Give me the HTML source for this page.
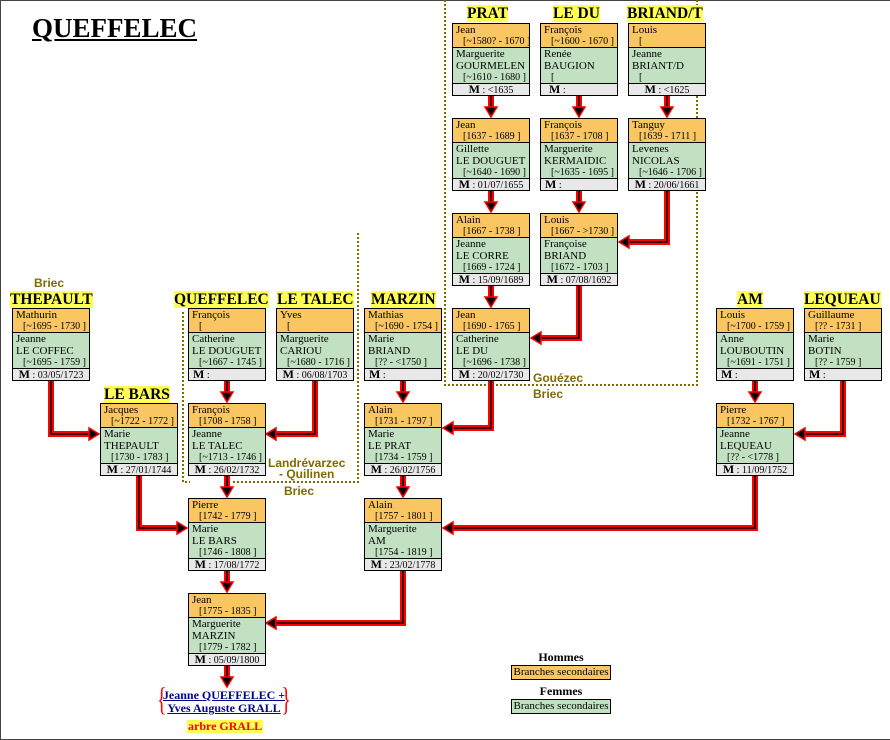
<!DOCTYPE html>
<html><head><meta charset="utf-8"><style>
*{margin:0;padding:0;box-sizing:border-box}
body{width:890px;height:740px;position:relative;background:#fff;overflow:hidden;font-family:"Liberation Serif",serif;color:#000}
.frame{position:absolute;left:0;top:0;width:890px;height:740px;border:1px solid #444;border-right:none}
.b{position:absolute;width:78px;border:1px solid #000;font-size:11px;line-height:12px;white-space:nowrap;overflow:hidden}
.h{background:#f9c661;height:24px;border-bottom:1px solid #000;padding-left:3px}
.f{background:#c2e1c2;height:36px;border-bottom:1px solid #000;padding-left:3px}
.d{padding-left:7px;font-size:10px}
.m{background:#e8e8e8;height:11px;line-height:11px;font-size:10px;text-align:center}
.m b{font-size:12px}
.fam{position:absolute;font-weight:bold;font-size:15.5px;line-height:17px;background:#ffff55;white-space:nowrap}
.loc{position:absolute;font-family:"Liberation Sans",sans-serif;font-weight:bold;color:#7f6a00;font-size:12px;line-height:11px;text-align:center;white-space:nowrap}
svg{position:absolute;left:0;top:0}
</style></head><body>
<div class="frame"></div>
<div style="position:absolute;left:32px;top:13px;font-size:27px;font-weight:bold;text-decoration:underline;line-height:30px">QUEFFELEC</div>

<svg width="890" height="740">
<g fill="none" stroke="#7f6a00" stroke-width="2" stroke-dasharray="2,2">
<path d="M445 0V385H697V0"/>
<path d="M183 312V482H190M233 482H358V232"/>
</g>
<g fill="none" stroke="#f00" stroke-width="6">
<path d="M491 95V110M491 190V205M491 284V300M579 95V110M579 190V205M667 95V110M227 380V395M227 475V490M227 570V585M227 665V680M403 380V395M403 475V490M755 380V395"/>
<path d="M667 190V242H626M579 284V338H538M51 380V434H92M315 380V434H273M491 380V428H450M843 380V434H802M139 475V528H180M755 475V528H450M403 570V623H273"/>
</g>
<g fill="none" stroke="#000" stroke-width="1.5">
<path d="M491 95V110M491 190V205M491 284V300M579 95V110M579 190V205M667 95V110M227 380V395M227 475V490M227 570V585M227 665V680M403 380V395M403 475V490M755 380V395"/>
<path d="M667 190V242H626M579 284V338H538M51 380V434H92M315 380V434H273M491 380V428H450M843 380V434H802M139 475V528H180M755 475V528H450M403 570V623H273"/>
</g>
<g fill="#000" stroke="#f00" stroke-width="1.5">
<path d="M485 107H497L491 117Z"/><path d="M485 202H497L491 212Z"/><path d="M485 297H497L491 307Z"/>
<path d="M573 107H585L579 117Z"/><path d="M573 202H585L579 212Z"/><path d="M661 107H673L667 117Z"/>
<path d="M221 392H233L227 402Z"/><path d="M221 487H233L227 497Z"/><path d="M221 582H233L227 592Z"/><path d="M221 677H233L227 687Z"/>
<path d="M397 392H409L403 402Z"/><path d="M397 487H409L403 497Z"/><path d="M749 392H761L755 402Z"/>
<path d="M629 236V248L619 242Z"/><path d="M541 332V344L531 338Z"/><path d="M89 428V440L99 434Z"/>
<path d="M276 428V440L266 434Z"/><path d="M453 422V434L443 428Z"/><path d="M805 428V440L795 434Z"/>
<path d="M177 522V534L187 528Z"/><path d="M453 522V534L443 528Z"/><path d="M276 617V629L266 623Z"/>
</g>
</svg>

<div class="fam" style="left:467px;top:5px">PRAT</div>
<div class="fam" style="left:553px;top:5px">LE DU</div>
<div class="fam" style="left:627px;top:5px">BRIAND/T</div>
<div class="fam" style="left:10px;top:291px">THEPAULT</div>
<div class="fam" style="left:174px;top:291px">QUEFFELEC</div>
<div class="fam" style="left:277px;top:291px">LE TALEC</div>
<div class="fam" style="left:371px;top:291px">MARZIN</div>
<div class="fam" style="left:737px;top:291px">AM</div>
<div class="fam" style="left:804px;top:291px">LEQUEAU</div>
<div class="fam" style="left:104px;top:386px">LE BARS</div>

<div class="loc" style="left:34px;top:278px">Briec</div>
<div class="loc" style="left:533px;top:373px">Gouézec</div>
<div class="loc" style="left:533px;top:389px">Briec</div>
<div class="loc" style="left:268px;top:458px">Landrévarzec<br>- Quilinen</div>
<div class="loc" style="left:284px;top:486px">Briec</div>

<div class="b" style="left:452px;top:23px"><div class="h">Jean<div class="d">[~1580? - 1670 ]</div></div><div class="f">Marguerite<br>GOURMELEN<div class="d">[~1610 - 1680 ]</div></div><div class="m"><b>M</b> : &lt;1635</div></div>
<div class="b" style="left:540px;top:23px"><div class="h">François<div class="d">[~1600 - 1670 ]</div></div><div class="f">Renée<br>BAUGION<div class="d">[</div></div><div class="m" style="text-align:left;padding-left:8px"><b>M</b> :</div></div>
<div class="b" style="left:628px;top:23px"><div class="h">Louis<div class="d">[</div></div><div class="f">Jeanne<br>BRIANT/D<div class="d">[</div></div><div class="m"><b>M</b> : &lt;1625</div></div>

<div class="b" style="left:452px;top:118px"><div class="h">Jean<div class="d">[1637 - 1689 ]</div></div><div class="f">Gillette<br>LE DOUGUET<div class="d">[~1640 - 1690 ]</div></div><div class="m"><b>M</b> : 01/07/1655</div></div>
<div class="b" style="left:540px;top:118px"><div class="h">François<div class="d">[1637 - 1708 ]</div></div><div class="f">Marguerite<br>KERMAIDIC<div class="d">[~1635 - 1695 ]</div></div><div class="m" style="text-align:left;padding-left:4px"><b>M</b> :</div></div>
<div class="b" style="left:628px;top:118px"><div class="h">Tanguy<div class="d">[1639 - 1711 ]</div></div><div class="f">Levenes<br>NICOLAS<div class="d">[~1646 - 1706 ]</div></div><div class="m"><b>M</b> : 20/06/1661</div></div>

<div class="b" style="left:452px;top:213px"><div class="h">Alain<div class="d">[1667 - 1738 ]</div></div><div class="f">Jeanne<br>LE CORRE<div class="d">[1669 - 1724 ]</div></div><div class="m"><b>M</b> : 15/09/1689</div></div>
<div class="b" style="left:540px;top:213px"><div class="h">Louis<div class="d">[1667 - &gt;1730 ]</div></div><div class="f">Françoise<br>BRIAND<div class="d">[1672 - 1703 ]</div></div><div class="m"><b>M</b> : 07/08/1692</div></div>

<div class="b" style="left:452px;top:308px"><div class="h">Jean<div class="d">[1690 - 1765 ]</div></div><div class="f">Catherine<br>LE DU<div class="d">[~1696 - 1738 ]</div></div><div class="m"><b>M</b> : 20/02/1730</div></div>
<div class="b" style="left:364px;top:308px"><div class="h">Mathias<div class="d">[~1690 - 1754 ]</div></div><div class="f">Marie<br>BRIAND<div class="d">[?? - &lt;1750 ]</div></div><div class="m" style="text-align:left;padding-left:4px"><b>M</b> :</div></div>
<div class="b" style="left:12px;top:308px"><div class="h">Mathurin<div class="d">[~1695 - 1730 ]</div></div><div class="f">Jeanne<br>LE COFFEC<div class="d">[~1695 - 1759 ]</div></div><div class="m"><b>M</b> : 03/05/1723</div></div>
<div class="b" style="left:188px;top:308px"><div class="h">François<div class="d">[</div></div><div class="f">Catherine<br>LE DOUGUET<div class="d">[~1667 - 1745 ]</div></div><div class="m" style="text-align:left;padding-left:4px"><b>M</b> :</div></div>
<div class="b" style="left:276px;top:308px"><div class="h">Yves<div class="d">[</div></div><div class="f">Marguerite<br>CARIOU<div class="d">[~1680 - 1716 ]</div></div><div class="m"><b>M</b> : 06/08/1703</div></div>
<div class="b" style="left:716px;top:308px"><div class="h">Louis<div class="d">[~1700 - 1759 ]</div></div><div class="f">Anne<br>LOUBOUTIN<div class="d">[~1691 - 1751 ]</div></div><div class="m" style="text-align:left;padding-left:4px"><b>M</b> :</div></div>
<div class="b" style="left:804px;top:308px"><div class="h">Guillaume<div class="d">[?? - 1731 ]</div></div><div class="f">Marie<br>BOTIN<div class="d">[?? - 1759 ]</div></div><div class="m" style="text-align:left;padding-left:4px"><b>M</b> :</div></div>

<div class="b" style="left:100px;top:403px"><div class="h">Jacques<div class="d">[~1722 - 1772 ]</div></div><div class="f">Marie<br>THEPAULT<div class="d">[1730 - 1783 ]</div></div><div class="m"><b>M</b> : 27/01/1744</div></div>
<div class="b" style="left:188px;top:403px"><div class="h">François<div class="d">[1708 - 1758 ]</div></div><div class="f">Jeanne<br>LE TALEC<div class="d">[~1713 - 1746 ]</div></div><div class="m"><b>M</b> : 26/02/1732</div></div>
<div class="b" style="left:364px;top:403px"><div class="h">Alain<div class="d">[1731 - 1797 ]</div></div><div class="f">Marie<br>LE PRAT<div class="d">[1734 - 1759 ]</div></div><div class="m"><b>M</b> : 26/02/1756</div></div>
<div class="b" style="left:716px;top:403px"><div class="h">Pierre<div class="d">[1732 - 1767 ]</div></div><div class="f">Jeanne<br>LEQUEAU<div class="d">[?? - &lt;1778 ]</div></div><div class="m"><b>M</b> : 11/09/1752</div></div>

<div class="b" style="left:188px;top:498px"><div class="h">Pierre<div class="d">[1742 - 1779 ]</div></div><div class="f">Marie<br>LE BARS<div class="d">[1746 - 1808 ]</div></div><div class="m"><b>M</b> : 17/08/1772</div></div>
<div class="b" style="left:364px;top:498px"><div class="h">Alain<div class="d">[1757 - 1801 ]</div></div><div class="f">Marguerite<br>AM<div class="d">[1754 - 1819 ]</div></div><div class="m"><b>M</b> : 23/02/1778</div></div>

<div class="b" style="left:188px;top:593px"><div class="h">Jean<div class="d">[1775 - 1835 ]</div></div><div class="f">Marguerite<br>MARZIN<div class="d">[1779 - 1782 ]</div></div><div class="m"><b>M</b> : 05/09/1800</div></div>

<div style="position:absolute;left:157px;top:687px;width:134px;height:30px">
<div style="position:absolute;left:0;top:-3px;color:#f00;font-size:33px;line-height:33px;transform:scaleX(0.6);transform-origin:left">{</div>
<div style="position:absolute;right:0;top:-3px;color:#f00;font-size:33px;line-height:33px;transform:scaleX(0.6);transform-origin:right">}</div>
<div style="position:absolute;left:0;width:134px;top:2px;text-align:center;color:#00008b;font-weight:bold;font-size:12px;line-height:13px;text-decoration:underline">Jeanne QUEFFELEC +<br>Yves Auguste GRALL</div>
</div>
<div style="position:absolute;left:187px;top:720px;background:#ffff55;color:#f00;font-weight:bold;font-size:12px;line-height:13px;padding:0 1px">arbre GRALL</div>

<div style="position:absolute;left:511px;top:651px;width:100px;text-align:center;font-weight:bold;font-size:12px;line-height:12px">Hommes</div>
<div style="position:absolute;left:511px;top:665px;width:100px;height:15px;background:#f9c661;border:1px solid #000;font-size:11px;line-height:13px;text-align:center;white-space:nowrap">Branches secondaires</div>
<div style="position:absolute;left:511px;top:685px;width:100px;text-align:center;font-weight:bold;font-size:12px;line-height:12px">Femmes</div>
<div style="position:absolute;left:511px;top:699px;width:100px;height:15px;background:#c2e1c2;border:1px solid #000;font-size:11px;line-height:13px;text-align:center;white-space:nowrap">Branches secondaires</div>
</body></html>
